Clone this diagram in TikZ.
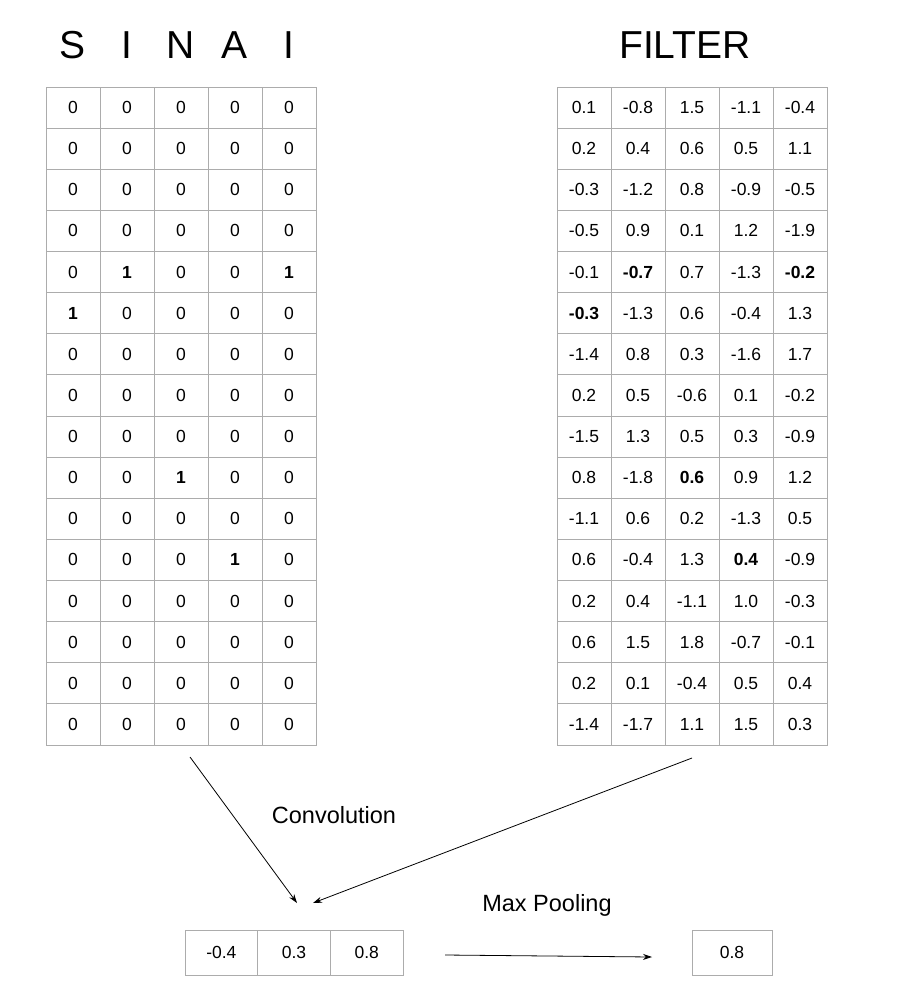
\documentclass[tikz,border=0pt]{standalone}
\usepackage{fontspec}
\setmainfont{Liberation Sans}
\usetikzlibrary{arrows.meta}

\begin{document}
\begin{tikzpicture}[x=1pt,y=-1pt]

    % Tamanho das células (largura e altura)
    \def\cw{54}
    \def\ch{41.125}

    % Estilo de célula das grades
    \tikzstyle{cell} = [
      draw=gray!65, rectangle, line width=0.8pt, inner sep=0pt,
      minimum width=\cw pt, minimum height=\ch pt,
      text height=12pt, text depth=0pt, font=\fontsize{17.5}{17.5}\selectfont
    ];
    \tikzstyle{title} = [font=\fontsize{39}{39}\selectfont];
    \tikzstyle{label} = [font=\fontsize{23.5}{23.5}\selectfont];
    \tikzstyle{conn} = [-{Stealth[length=9pt,width=6pt]}, line width=0.8pt];

    \useasboundingbox (0,0) rectangle (903,996);

    % Valores da palavra e do filtro
    \def\S{{0,0,0,0,0},{0,0,0,0,0},{0,0,0,0,0},{0,0,0,0,0},
      {0,\textbf{1},0,0,\textbf{1}},{\textbf{1},0,0,0,0},{0,0,0,0,0},{0,0,0,0,0},
      {0,0,0,0,0},{0,0,\textbf{1},0,0},{0,0,0,0,0},{0,0,0,\textbf{1},0},
      {0,0,0,0,0},{0,0,0,0,0},{0,0,0,0,0},{0,0,0,0,0}}
    \def\F{{0.1,-0.8,1.5,-1.1,-0.4},{0.2,0.4,0.6,0.5,1.1},{-0.3,-1.2,0.8,-0.9,-0.5},
      {-0.5,0.9,0.1,1.2,-1.9},{-0.1,\textbf{-0.7},0.7,-1.3,\textbf{-0.2}},
      {\textbf{-0.3},-1.3,0.6,-0.4,1.3},{-1.4,0.8,0.3,-1.6,1.7},{0.2,0.5,-0.6,0.1,-0.2},
      {-1.5,1.3,0.5,0.3,-0.9},{0.8,-1.8,\textbf{0.6},0.9,1.2},{-1.1,0.6,0.2,-1.3,0.5},
      {0.6,-0.4,1.3,\textbf{0.4},-0.9},{0.2,0.4,-1.1,1.0,-0.3},{0.6,1.5,1.8,-0.7,-0.1},
      {0.2,0.1,-0.4,0.5,0.4},{-1.4,-1.7,1.1,1.5,0.3}}

    % Grade da esquerda
    \foreach \linha [count=\r] in \S
    {
      \foreach \v [count=\c] in \linha
      {
        \node[cell] (s-\r-\c) at (46+\c*\cw-\cw/2, 87+\r*\ch-\ch/2) {\v};
      }
    }

    % Grade da direita
    \foreach \linha [count=\r] in \F
    {
      \foreach \v [count=\c] in \linha
      {
        \node[cell] (f-\r-\c) at (557+\c*\cw-\cw/2, 87+\r*\ch-\ch/2) {\v};
      }
    }

    % Títulos
    \foreach \letra [count=\c] in {S,I,N,A,I}
    {
      \node[title] (t-\c) at (46+\c*\cw-\cw/2, 45) {\letra};
    }
    \node[title] (filter) at (685,45) {FILTER};

    % Resultado da convolução
    \foreach \v [count=\c] in {-0.4,0.3,0.8}
    {
      \node[cell, minimum width=72.7pt, minimum height=45pt] (c-\c) at (185+\c*72.7-36.35, 952.5) {\v};
    }
    \node[cell, minimum width=80pt, minimum height=45pt] (mp) at (732,952.5) {0.8};

    % Setas
    \coordinate (a1) at (190,757);
    \coordinate (a2) at (692,758);
    \coordinate (b) at (297,903);
    \coordinate (b2) at (313,903);
    \coordinate (p1) at (445,955);
    \coordinate (p2) at (652,957);
    \draw[conn] (a1) -- (b);
    \draw[conn] (a2) -- (b2);
    \draw[conn] (p1) -- (p2);

    \node[label] (conv) at (334,815) {Convolution};
    \node[label] (pool) at (547,905) {Max Pooling};

\end{tikzpicture}
\end{document}
